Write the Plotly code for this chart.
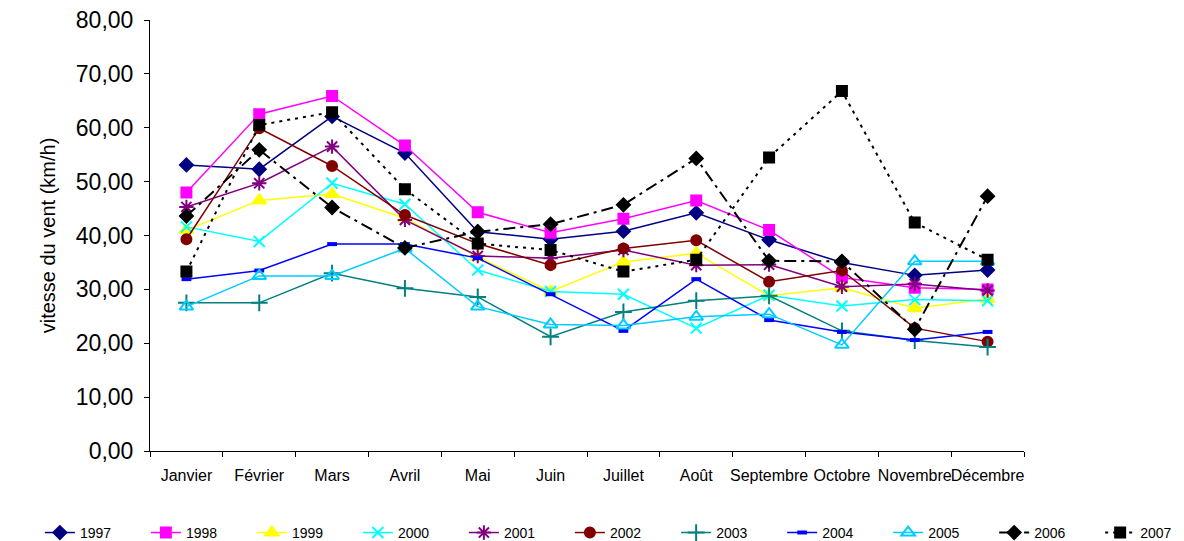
import plotly.graph_objects as go

months = ["Janvier", "Février", "Mars", "Avril", "Mai", "Juin", "Juillet",
          "Août", "Septembre", "Octobre", "Novembre", "Décembre"]

v1997 = [53.1, 52.3, 62.1, 55.3, 40.7, 39.3, 40.8, 44.2, 39.2, 35.0, 32.6, 33.6]
v1998 = [48.0, 62.5, 65.9, 56.7, 44.3, 40.5, 43.1, 46.5, 41.0, 32.2, 30.3, 30.0]
v1999 = [41.0, 46.5, 47.7, 43.2, 36.0, 29.6, 35.1, 36.7, 28.8, 30.3, 26.5, 28.2]
v2000 = [41.6, 38.9, 49.7, 45.8, 33.6, 29.6, 29.1, 22.8, 28.9, 26.9, 28.1, 27.9]
v2001 = [45.3, 49.7, 56.5, 42.9, 36.2, 35.8, 37.3, 34.5, 34.6, 30.5, 31.0, 29.8]
v2002 = [39.3, 59.9, 52.9, 43.8, 38.5, 34.5, 37.6, 39.1, 31.4, 33.5, 22.8, 20.3]
v2003 = [27.5, 27.5, 33.0, 30.2, 28.6, 21.2, 25.8, 27.9, 28.8, 22.3, 20.5, 19.3]
v2004 = [31.9, 33.5, 38.4, 38.4, 35.8, 29.1, 22.3, 31.9, 24.3, 22.1, 20.6, 22.1]
v2005 = [26.8, 32.5, 32.5, 37.6, 26.8, 23.5, 23.3, 24.9, 25.4, 19.7, 35.2, 35.2]
v2006 = [43.6, 55.9, 45.2, 37.7, 40.7, 42.1, 45.7, 54.3, 35.3, 35.2, 22.6, 47.3]
v2007 = [33.3, 60.5, 62.9, 48.6, 38.5, 37.3, 33.3, 35.5, 54.5, 66.8, 42.4, 35.5]

y_ticks = [0, 10, 20, 30, 40, 50, 60, 70, 80]

series = [
    ("1997", v1997, "#000080", "diamond", 10, "solid", 1.5, "legend"),
    ("1998", v1998, "#FF00FF", "square", 10, "solid", 1.5, "legend"),
    ("1999", v1999, "#FFFF00", "triangle-up", 12, "solid", 1.5, "legend"),
    ("2000", v2000, "#00FFFF", "x-thin-open", 11, "solid", 1.5, "legend"),
    ("2001", v2001, "#800080", "asterisk-open", 12, "solid", 1.5, "legend"),
    ("2002", v2002, "#800000", "circle", 10, "solid", 1.5, "legend"),
    ("2003", v2003, "#008080", "cross-thin-open", 12, "solid", 1.5, "legend2"),
    ("2004", v2004, "#0000FF", "line-ew-open", 7, "solid", 1.5, "legend2"),
    ("2005", v2005, "#00CCFF", "triangle-up-open", 12, "solid", 1.5, "legend2"),
    ("2006", v2006, "#000000", "diamond", 10, "12px,5px,3px,5px", 2, "legend2"),
    ("2007", v2007, "#000000", "square", 10, "3px,5px", 2, "legend2"),
]

fig = go.Figure()
for name, vals, color, sym, size, dash, lw, leg in series:
    mline = dict(color=color, width=2)
    if sym == "line-ew-open":
        mline = dict(color=color, width=4)
    fig.add_trace(go.Scatter(
        x=months, y=vals, name=name, mode="lines+markers", legend=leg,
        line=dict(color=color, width=lw, dash=dash),
        marker=dict(symbol=sym, size=size, color=color, line=mline),
    ))

font_family = "Liberation Sans, Arial, sans-serif"

legend_common = dict(
    orientation="h", xanchor="left", yanchor="top",
    font=dict(size=14, family=font_family),
    itemwidth=30, entrywidth=61, entrywidthmode="pixels",
    tracegroupgap=0, bgcolor="rgba(0,0,0,0)",
)

# page body has an 8px margin; figure is sized to fit the 1184x541 window
fig.update_layout(
    width=1176, height=533,
    margin=dict(l=142, r=160, t=12, b=90, autoexpand=False),
    plot_bgcolor="white", paper_bgcolor="white",
    separators=",.",
    font=dict(family=font_family, color="#000000"),
    showlegend=True,
    legend=dict(x=-0.126, y=-0.153, **legend_common),
    legend2=dict(x=0.602, y=-0.153, **legend_common),
    xaxis=dict(
        type="category", tickson="boundaries", ticks="outside", ticklen=5,
        tickcolor="#000", showline=True, linecolor="#000", linewidth=1,
        showgrid=False, tickfont=dict(size=16), ticklabelstandoff=10,
        tickangle=0, automargin=False, ticklabeloverflow="allow",
        range=[-0.5, 11.5],
    ),
    yaxis=dict(
        range=[0, 80], tickvals=y_ticks, tickformat=".2f", ticks="outside",
        ticklen=5, tickcolor="#000", showline=True, linecolor="#000",
        linewidth=1, showgrid=False, zeroline=False, automargin=False,
        ticklabeloverflow="allow",
        tickfont=dict(size=23), ticklabelstandoff=6,
        title=dict(text="vitesse du vent (km/h)", font=dict(size=20), standoff=14),
    ),
)

fig.write_html("out.html")
